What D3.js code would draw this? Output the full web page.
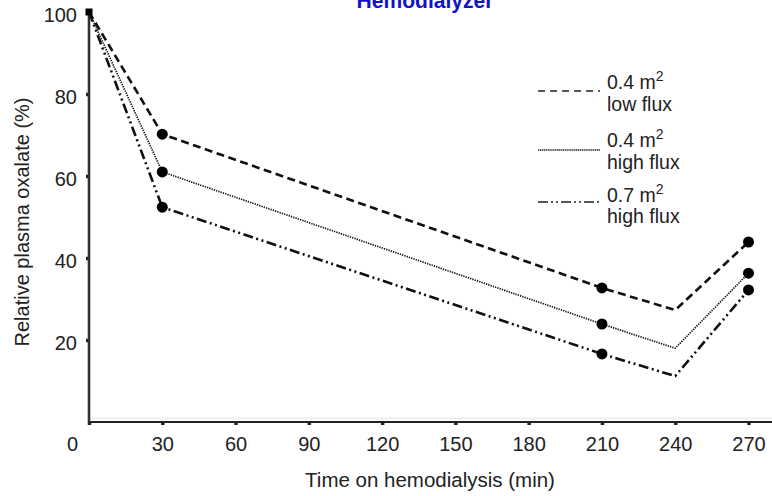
<!DOCTYPE html>
<html>
<head>
<meta charset="utf-8">
<script src="https://cdn.jsdelivr.net/npm/d3@7"></script>
<style>
  html, body { margin: 0; padding: 0; background: #fff; }
  svg { display: block; font-family: "Liberation Sans", Arial, sans-serif; }
</style>
</head>
<body>
<main></main>
<script>
(function(){

  // DATA (relative plasma oxalate, %)
  const times = [0, 30, 210, 240, 270],
  lowFlux04 = [100, 70.2, 32.7, 27.3, 43.9],
  highFlux04 = [100, 61, 23.9, 18, 36.3],
  highFlux07 = [100, 52.4, 16.6, 11.2, 32.2],
  dotTimes = [30, 210, 270],
  xTicks = [0, 30, 60, 90, 120, 150, 180, 210, 240, 270],
  yTicks = [20, 40, 60, 80, 100],
  seriesNames = [["0.4 m", "low flux"], ["0.4 m", "high flux"], ["0.7 m", "high flux"]];

  const w = 772,
  h = 496;

  const series = [
    {values: lowFlux04, dash: "8,4.5", width: 2.6},
    {values: highFlux04, dash: "1.3,1.1", width: 1.7},
    {values: highFlux07, dash: "10,3.5,2,3.5,2,3.5", width: 2.6}
  ];

  const x = d3.scaleLinear().domain([0, 270]).range([89, 748.5]),
  y = d3.scaleLinear().domain([0, 100]).range([422, 12]);

  const svg = d3.select("main")
    .append("svg")
    .attr("width", w)
    .attr("height", h);

  // TITLE (cut off by the top edge)
  svg.append("text")
    .attr("x", 425)
    .attr("y", 7.5)
    .attr("text-anchor", "middle")
    .attr("font-size", 22)
    .attr("font-weight", "bold")
    .attr("fill", "#1212c8")
    .attr("textLength", 137)
    .attr("lengthAdjust", "spacingAndGlyphs")
    .text("Hemodialyzer");

  // faint shadow line above x axis
  svg.append("line")
    .attr("x1", x(0)).attr("x2", w)
    .attr("y1", y(0) - 3.5).attr("y2", y(0) - 3.5)
    .attr("stroke", "#eee")
    .attr("stroke-width", 2);

  // X AXIS
  const xAxis = svg.append("g")
    .attr("transform", "translate(0," + y(0) + ")")
    .call(d3.axisBottom(x).tickValues(xTicks).tickSizeInner(3).tickSizeOuter(0).tickPadding(12));
  xAxis.select(".domain").remove();
  xAxis.append("line")
    .attr("x1", x(0) - 1).attr("x2", w)
    .attr("stroke", "#222")
    .attr("stroke-width", 2.2);
  xAxis.selectAll(".tick line").attr("stroke", "#222").attr("stroke-width", 3.5);
  xAxis.selectAll(".tick text")
    .attr("font-size", 20)
    .attr("fill", "#222")
    .attr("font-family", "Liberation Sans, Arial, sans-serif")
    .attr("x", d => d === 0 ? -17 : 0);

  // Y AXIS
  const yAxis = svg.append("g")
    .attr("transform", "translate(" + x(0) + ",0)")
    .call(d3.axisLeft(y).tickValues(yTicks).tickSizeInner(3).tickSizeOuter(0).tickPadding(9));
  yAxis.select(".domain").remove();
  yAxis.append("line")
    .attr("y1", y(100)).attr("y2", y(0))
    .attr("stroke", "#333")
    .attr("stroke-width", 2.6);
  yAxis.selectAll(".tick line").attr("stroke", "#222").attr("stroke-width", 3.5);
  yAxis.selectAll(".tick text")
    .attr("font-size", 20)
    .attr("fill", "#222")
    .attr("font-family", "Liberation Sans, Arial, sans-serif")
    .attr("dy", "0.45em");

  // AXIS TITLES
  svg.append("text")
    .attr("x", 430)
    .attr("y", 487)
    .attr("text-anchor", "middle")
    .attr("font-size", 20.5)
    .attr("fill", "#222")
    .text("Time on hemodialysis (min)");

  svg.append("text")
    .attr("transform", "translate(29,222) rotate(-90)")
    .attr("text-anchor", "middle")
    .attr("font-size", 20)
    .attr("fill", "#222")
    .text("Relative plasma oxalate (%)");

  // LINES
  const line = d3.line()
    .x((d, i) => x(times[i]))
    .y(d => y(d));

  svg.selectAll(".series")
    .data(series)
    .enter()
    .append("path")
    .attr("class", "series")
    .attr("d", d => line(d.values))
    .attr("fill", "none")
    .attr("stroke", "#111")
    .attr("stroke-width", d => d.width)
    .attr("stroke-dasharray", d => d.dash);

  // DOTS
  series.forEach(s => {
    svg.selectAll(null)
      .data(dotTimes)
      .enter()
      .append("circle")
      .attr("cx", t => x(t))
      .attr("cy", t => y(s.values[times.indexOf(t)]))
      .attr("r", 5.5)
      .attr("fill", "#000");
  });

  // start marker at (0, 100)
  svg.append("rect")
    .attr("x", x(0) - 3.5)
    .attr("y", y(100) - 3.5)
    .attr("width", 7)
    .attr("height", 7)
    .attr("fill", "#000");

  // LEGEND
  const legend = svg.append("g");
  const legendY = [91, 150, 202];

  legend.selectAll("line")
    .data(series)
    .enter()
    .append("line")
    .attr("x1", 538)
    .attr("x2", 600)
    .attr("y1", (d, i) => legendY[i])
    .attr("y2", (d, i) => legendY[i])
    .attr("stroke", "#222")
    .attr("stroke-width", (d, i) => i === 1 ? 1.7 : 1.6)
    .attr("stroke-dasharray", (d, i) => i === 0 ? "7,5" : i === 1 ? "1.3,0.6" : "10,3,2,3,2,3");

  const lt = legend.selectAll(".ltext")
    .data(seriesNames)
    .enter()
    .append("text")
    .attr("class", "ltext")
    .attr("font-size", 19.5)
    .attr("fill", "#222");

  lt.append("tspan")
    .attr("x", 607)
    .attr("y", (d, i) => legendY[i] + [-2, -3, 0][i])
    .text(d => d[0]);
  lt.append("tspan")
    .attr("dy", -8)
    .attr("font-size", 14)
    .text("2");
  lt.append("tspan")
    .attr("x", 607)
    .attr("y", (d, i) => legendY[i] + [20, 19, 21][i])
    .text(d => d[1]);

})()
</script>
</body>
</html>
